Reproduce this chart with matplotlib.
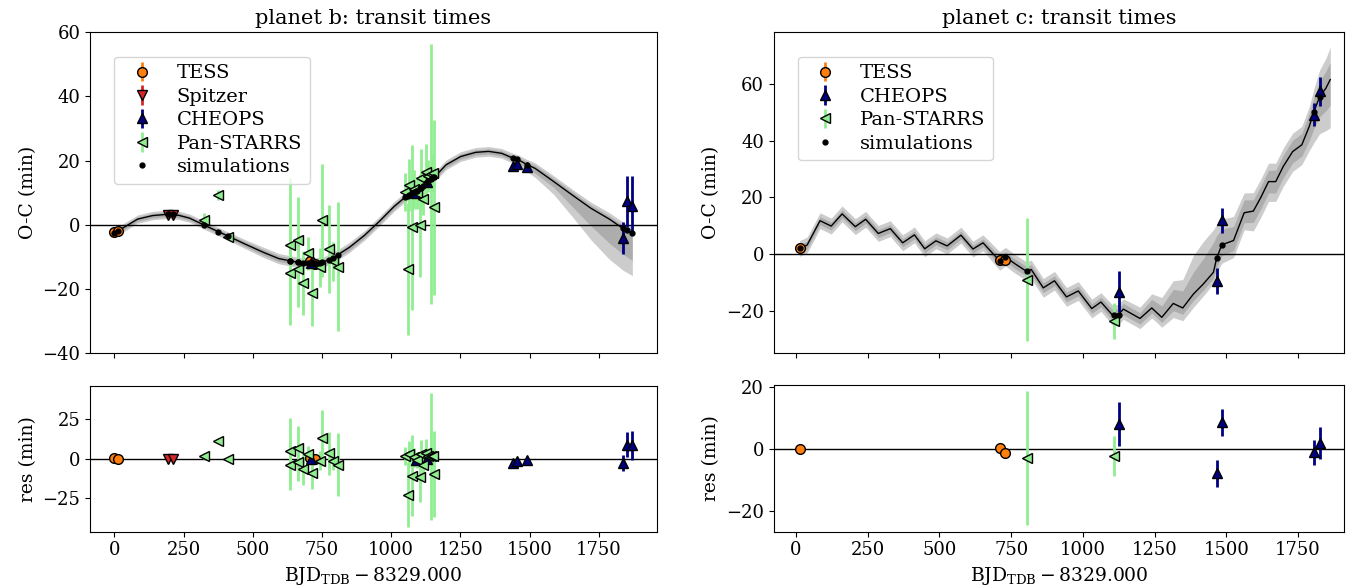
import numpy as np
import matplotlib
matplotlib.use("Agg")
import matplotlib.pyplot as plt

plt.rcParams['font.family'] = ['DejaVu Serif']
plt.rcParams['mathtext.fontset'] = 'dejavuserif'

# ---------------- planet b ----------------
b_curve_x = [0, 40, 84, 138, 192, 232, 272, 323, 373, 409, 473, 540, 594, 635, 675, 715,
             755, 802, 849, 903, 956, 1010, 1050, 1090, 1131, 1164, 1198, 1251, 1305, 1352,
             1399, 1440, 1459, 1490, 1520, 1587, 1654, 1721, 1788, 1837, 1871]
b_curve_y = [-2.5, -0.5, 1.8, 2.9, 3.3, 3.0, 2.1, 0.0, -2.0, -3.4, -6.0, -8.6, -10.5, -11.2, -11.8, -11.9,
             -11.6, -9.6, -7.0, -3.3, 1.0, 5.7, 8.6, 10.5, 13.5, 15.6, 18.7, 21.3, 22.6, 22.9,
             22.3, 20.8, 20.3, 18.8, 17.6, 13.5, 9.3, 5.2, 1.8, -1.1, -2.5]
# band half-widths (inner = 1 sigma, outer = 2 sigma), upper / lower
b_in_up = [0.7, 0.7, 0.7, 0.7, 0.7, 0.7, 0.7, 0.7, 0.7, 0.7, 0.8, 0.9, 0.9, 0.9, 0.9, 0.9,
           0.9, 0.9, 0.9, 0.8, 0.8, 0.8, 0.8, 0.8, 0.8, 0.8, 0.8, 0.8, 0.8, 0.8,
           0.8, 0.8, 0.8, 0.9, 1.0, 1.0, 1.0, 1.0, 1.0, 1.0, 1.0]
b_in_dn = [0.7, 0.7, 0.7, 0.7, 0.7, 0.7, 0.7, 0.7, 0.7, 0.7, 0.8, 0.9, 0.9, 0.9, 0.9, 0.9,
           0.9, 0.9, 0.9, 0.8, 0.8, 0.8, 0.8, 0.8, 0.8, 0.8, 0.8, 0.8, 0.8, 0.8,
           0.8, 0.9, 1.0, 1.2, 1.5, 1.8, 3.6, 5.5, 7.5, 8.0, 8.6]
b_out_up = [1.3, 1.3, 1.3, 1.3, 1.3, 1.3, 1.3, 1.3, 1.3, 1.3, 1.4, 1.6, 1.6, 1.6, 1.6, 1.6,
            1.6, 1.6, 1.6, 1.5, 1.5, 1.5, 1.5, 1.5, 1.5, 1.5, 1.5, 1.5, 1.5, 1.5,
            1.5, 1.5, 1.5, 1.6, 1.7, 1.8, 1.8, 1.9, 2.0, 2.0, 1.8]
b_out_dn = [1.3, 1.3, 1.3, 1.3, 1.3, 1.3, 1.3, 1.3, 1.3, 1.3, 1.4, 1.6, 1.6, 1.6, 1.6, 1.6,
            1.6, 1.6, 1.6, 1.5, 1.5, 1.5, 1.5, 1.5, 1.5, 1.5, 1.5, 1.5, 1.5, 1.5,
            1.5, 1.6, 1.8, 2.2, 2.8, 4.0, 6.7, 9.8, 12.5, 13.0, 13.3]

b_tess_x = [0, 15, 708, 724]
b_tess_y = [-2.3, -1.9, -11.4, -12.2]
b_tess_err = [0.5, 0.5, 0.6, 0.6]
b_tess_sim = [-2.5, -1.8, -11.9, -11.8]

b_spitzer_x = [195, 212]
b_spitzer_y = [3.1, 3.0]
b_spitzer_err = [0.8, 0.8]
b_spitzer_sim = [3.3, 3.3]

b_cheops_x = [712, 1090, 1131, 1440, 1456, 1490, 1837, 1852, 1870]
b_cheops_y = [-11.8, 9.9, 13.5, 18.2, 19.0, 17.9, -4.1, 7.3, 6.0]
b_cheops_err = [1.0, 1.0, 1.0, 1.0, 1.0, 1.0, 5.1, 7.9, 9.2]
b_cheops_sim = [-11.9, 10.5, 13.5, 20.8, 20.5, 18.8, -1.1, -1.7, -2.4]

b_ps_x = [323, 375, 409,
          635, 636, 664, 665, 680, 699, 713, 742, 749, 776, 789, 807,
          1050, 1061, 1066, 1077, 1084, 1093, 1104, 1106, 1114, 1124, 1133, 1144, 1151, 1155]
b_ps_y = [1.6, 9.3, -3.8,
          -6.4, -15.1, -4.8, -13.7, -18.2, -8.9, -21.1, -13.2, 1.4, -7.5, -11.4, -13.0,
          10.3, -13.8, 12.4, -0.8, 11.1, 9.8, -0.1, 14.6, 8.1, 16.4, 15.3, 15.8, 16.2, 5.5]
b_ps_err = [2.0, 1.5, 1.0,
            21.0, 16.0, 13.6, 12.0, 10.0, 5.0, 10.3, 6.0, 17.5, 13.8, 6.0, 20.0,
            6.0, 20.5, 8.0, 25.6, 6.0, 5.0, 16.0, 9.0, 5.0, 8.8, 5.0, 40.4, 6.0, 27.3]
b_ps_sim = [0.0, -2.1, -3.5,
            -11.2, -11.2, -11.7, -11.7, -11.8, -11.9, -11.9, -11.8, -11.7, -10.9, -10.2, -9.3,
            8.6, 9.1, 9.4, 9.9, 10.2, 10.7, 11.5, 11.6, 12.2, 12.9, 13.6, 14.3, 14.8, 15.0]

# ---------------- planet c ----------------
c_curve_x = [13, 39, 84, 123, 161, 207, 243, 287, 329, 372, 413, 449, 488, 527, 575, 617, 652,
             710, 730, 762, 804, 820, 862, 901, 943, 984, 1031, 1063, 1104, 1124, 1141, 1199,
             1240, 1275, 1315, 1348, 1385, 1420, 1455, 1466, 1484, 1525, 1562, 1594, 1620,
             1647, 1672, 1698, 1731, 1763, 1789, 1805, 1825, 1847, 1862]
c_curve_y = [2.0, 3.2, 11.8, 9.9, 14.2, 9.7, 12.3, 7.3, 9.0, 4.0, 6.8, 1.9, 4.7, 2.9, 6.7, 1.8, 4.0,
             -2.4, -0.9, -3.3, -6.1, -5.4, -11.9, -9.4, -15.1, -13.0, -19.2, -16.9, -21.6, -21.3, -19.4, -22.7,
             -19.0, -22.3, -17.4, -19.0, -14.1, -10.5, -6.4, -1.5, 3.3, 4.8, 14.6, 15.2, 20.0,
             25.6, 25.6, 30.9, 36.2, 38.6, 45.1, 50.3, 55.5, 58.6, 61.6]
c_in_up = [1.4] * 17 + [1.7] * 11 + [2.0, 2.0, 2.0, 2.0,
           3.0, 4.0, 5.0, 6.0, 7.7, 9.0, 10.5, 8.0, 5.5, 5.0, 4.5, 4.0, 4.0,
           4.0, 4.0, 4.0, 4.0, 4.0, 4.5, 5.0, 5.5, 6.0, 6.0]
c_in_dn = [1.4] * 17 + [1.7] * 11 + [2.0, 2.0, 2.0, 2.0,
           1.8, 1.8, 2.6, 2.2, 2.3, 2.2, 2.2, 3.0, 4.0, 3.5, 3.5, 4.0, 4.0,
           4.0, 4.0, 4.0, 4.0, 4.0, 5.0, 6.0, 7.0, 8.0, 9.0]
c_out_up = [2.8] * 17 + [3.3] * 11 + [3.6, 3.6, 3.6, 4.0,
            5.0, 7.0, 8.0, 10.0, 13.6, 15.0, 15.0, 12.0, 9.0, 8.5, 7.0, 6.5, 6.5,
            6.5, 6.5, 6.5, 6.5, 6.5, 7.0, 8.0, 9.5, 10.5, 11.5]
c_out_dn = [2.8] * 17 + [3.3] * 11 + [3.6, 3.6, 3.6, 3.6,
            3.5, 3.5, 5.0, 4.5, 4.7, 4.2, 4.0, 5.0, 6.5, 6.0, 6.0, 7.0, 7.0,
            7.0, 7.0, 7.0, 7.0, 7.0, 8.5, 11.0, 13.0, 15.0, 17.0]

c_tess_x = [13, 710, 730]
c_tess_y = [2.0, -1.9, -2.1]
c_tess_err = [0.8, 0.8, 0.8]
c_tess_sim = [2.0, -2.4, -0.9]

c_cheops_x = [1125, 1466, 1484, 1805, 1825]
c_cheops_y = [-13.3, -9.4, 12.0, 49.2, 57.5]
c_cheops_err = [7.2, 4.5, 4.4, 4.0, 5.1]
c_cheops_sim = [-21.5, -1.5, 3.3, 50.3, 55.5]

c_ps_x = [805, 1108]
c_ps_y = [-9.0, -23.7]
c_ps_err = [21.6, 6.4]
c_ps_sim = [-6.1, -21.4]

xticks = [0, 250, 500, 750, 1000, 1250, 1500, 1750]
xlabel = r'BJD$_\mathrm{TDB} - 8329.000$'

styles = {
    'TESS': dict(fmt='o', color='C1', mfc='C1', mec='k', ms=7, elinewidth=2),
    'Spitzer': dict(fmt='v', color='C3', mfc='C3', mec='k', ms=7, elinewidth=2),
    'CHEOPS': dict(fmt='^', color='navy', mfc='navy', mec='k', ms=7, elinewidth=2),
    'Pan-STARRS': dict(fmt='<', color='lightgreen', mfc='lightgreen', mec='k', ms=7, elinewidth=2),
}

W, H = 1362.0, 588.0
fig = plt.figure(figsize=(W / 100, H / 100), dpi=100)


def add_ax(l, r, t, b):
    return fig.add_axes([l / W, 1 - b / H, (r - l) / W, (b - t) / H])


axb = add_ax(90, 656.7, 32.3, 353.3)
axbr = add_ax(90, 656.7, 386, 531.7)
axc = add_ax(773.7, 1344.3, 32.3, 353.3)
axcr = add_ax(773.7, 1344.3, 385, 531.7)


def panel(ax, axr, cx, cy, iu, idn, ou, od, sets, title, ylim, rylim, xlim, yticks, ryticks):
    cx = np.array(cx); cy = np.array(cy)
    ax.fill_between(cx, cy - np.array(od), cy + np.array(ou), color='0.5', alpha=0.4, lw=0, zorder=1)
    ax.fill_between(cx, cy - np.array(idn), cy + np.array(iu), color='0.5', alpha=0.4, lw=0, zorder=1)
    ax.plot(cx, cy, color='k', lw=1, zorder=2)
    ax.axhline(0, color='k', lw=1, zorder=1.5)
    axr.axhline(0, color='k', lw=1, zorder=1.5)
    simx, simy = [], []
    handles = []
    for name, x, y, e, s in sets:
        st = styles[name]
        h = ax.errorbar(x, y, yerr=e, label=name, zorder=3, **st)
        handles.append(h)
        res = np.array(y) - np.array(s)
        axr.errorbar(x, res, yerr=e, zorder=3, **st)
        simx += list(x); simy += list(s)
    hs, = ax.plot(simx, simy, 'o', color='k', ms=3.5, ls='none', label='simulations', zorder=4)
    handles.append(hs)
    ax.set_title(title, fontsize=15)
    ax.set_ylabel('O-C (min)', fontsize=13.5)
    axr.set_ylabel('res (min)', fontsize=13.5)
    axr.set_xlabel(xlabel, fontsize=13.5)
    for a in (ax, axr):
        a.set_xlim(*xlim)
        a.set_xticks(xticks)
        a.tick_params(labelsize=13)
    ax.set_xticklabels([])
    ax.set_ylim(*ylim)
    axr.set_ylim(*rylim)
    ax.set_yticks(yticks)
    axr.set_yticks(ryticks)
    ax.legend(handles=handles, labels=[h.get_label() for h in handles],
              loc='upper left', fontsize=14, borderaxespad=1.25, labelspacing=0.28)


panel(axb, axbr, b_curve_x, b_curve_y, b_in_up, b_in_dn, b_out_up, b_out_dn,
      [('TESS', b_tess_x, b_tess_y, b_tess_err, b_tess_sim),
       ('Spitzer', b_spitzer_x, b_spitzer_y, b_spitzer_err, b_spitzer_sim),
       ('CHEOPS', b_cheops_x, b_cheops_y, b_cheops_err, b_cheops_sim),
       ('Pan-STARRS', b_ps_x, b_ps_y, b_ps_err, b_ps_sim)],
      'planet b: transit times', (-40, 60), (-46.3, 46.1), (-87.8, 1959),
      [-40, -20, 0, 20, 40, 60], [-25, 0, 25])

panel(axc, axcr, c_curve_x, c_curve_y, c_in_up, c_in_dn, c_out_up, c_out_dn,
      [('TESS', c_tess_x, c_tess_y, c_tess_err, c_tess_sim),
       ('CHEOPS', c_cheops_x, c_cheops_y, c_cheops_err, c_cheops_sim),
       ('Pan-STARRS', c_ps_x, c_ps_y, c_ps_err, c_ps_sim)],
      'planet c: transit times', (-35.0, 78.3), (-26.8, 20.8), (-77.4, 1911),
      [-20, 0, 20, 40, 60], [-20, 0, 20])

fig.savefig('out.png', dpi=100)
